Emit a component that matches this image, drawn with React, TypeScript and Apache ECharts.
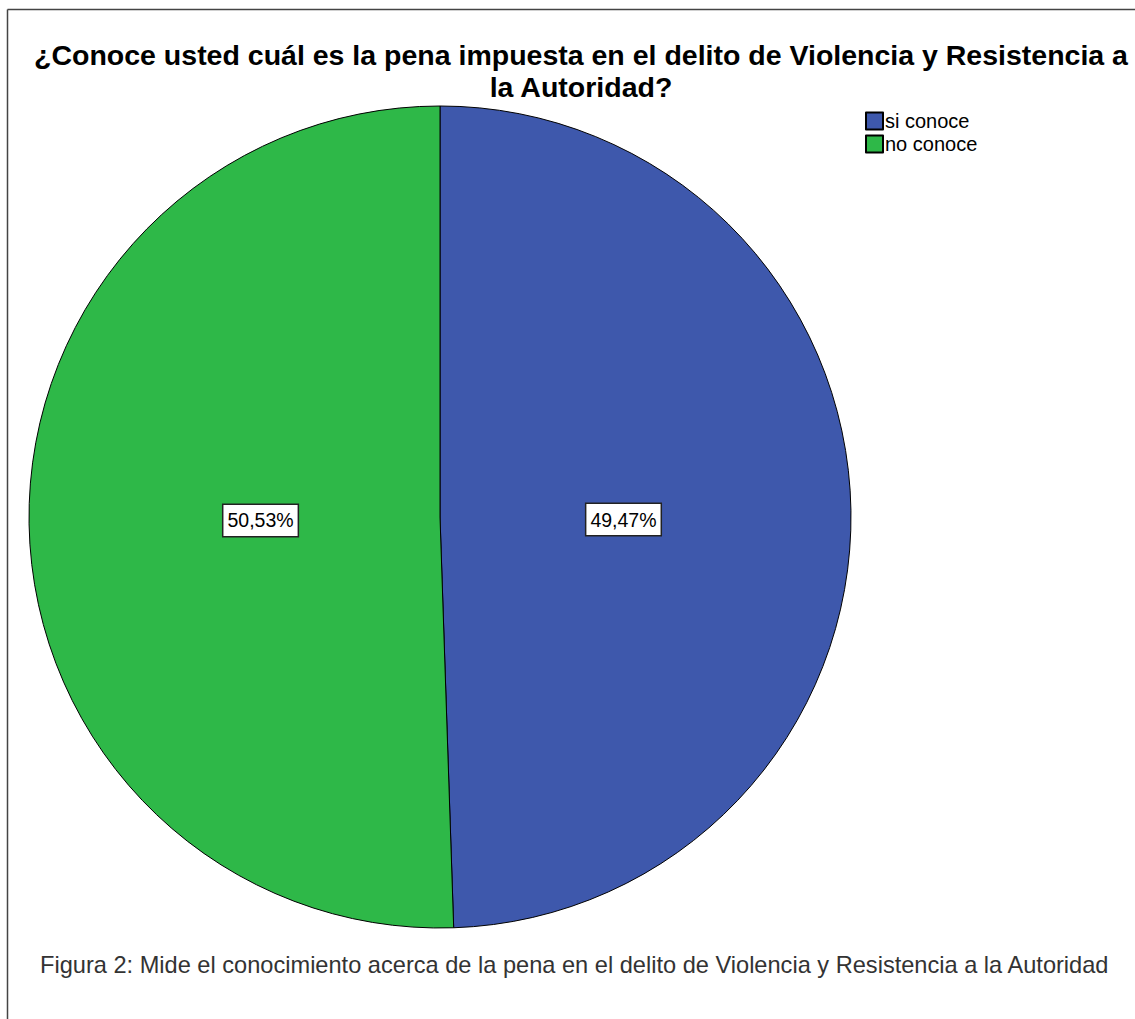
import React, { useEffect, useRef } from "react";
import * as echarts from "echarts";

const titleLines = [
  "¿Conoce usted cuál es la pena impuesta en el delito de Violencia y Resistencia a",
  "la Autoridad?",
];
const categories = ["si conoce", "no conoce"];
const percents = [49.47, 50.53];
const colors = ["#3E58AC", "#2EB848"];
const caption =
  "Figura 2: Mide el conocimiento acerca de la pena en el delito de Violencia y Resistencia a la Autoridad";

export default function App() {
  const ref = useRef<HTMLDivElement>(null);
  useEffect(() => {
    if (!ref.current) return;
    const chart = echarts.init(ref.current, null, { renderer: "svg" });
    const font = "'Liberation Sans', Arial, sans-serif";
    chart.setOption({
      animation: false,
      backgroundColor: "#ffffff",
      textStyle: { fontFamily: font },
      title: {
        text: titleLines.join("\n"),
        left: 576,
        textAlign: "center",
        top: 34,
        textStyle: {
          fontFamily: font,
          fontWeight: "bold",
          fontSize: 28.5,
          lineHeight: 32,
          color: "#000",
        },
      },
      legend: {
        orient: "vertical",
        left: 860,
        top: 106,
        itemWidth: 17,
        itemHeight: 17,
        itemGap: 3,
        icon: "rect",
        textStyle: { fontFamily: font, fontSize: 20, color: "#000", padding: [0, 0, 0, -3] },
        data: categories,
      },
      graphic: [
        {
          type: "line",
          shape: { x1: 7.5, y1: 9.5, x2: 1135, y2: 9.5 },
          style: { stroke: "#444", lineWidth: 1.5 },
        },
        {
          type: "line",
          shape: { x1: 7.5, y1: 9.5, x2: 7.5, y2: 1019 },
          style: { stroke: "#444", lineWidth: 1.5 },
        },
        {
          type: "text",
          left: 40,
          top: 953,
          style: {
            text: caption,
            fontFamily: font,
            fontSize: 23.6,
            fill: "#333",
          },
        },
      ],
      series: [
        {
          type: "pie",
          center: [440, 517],
          radius: [0, 411],
          startAngle: 90,
          clockwise: true,
          silent: true,
          itemStyle: { borderColor: "#000", borderWidth: 1 },
          label: {
            show: true,
            position: "inside",
            formatter: (p: any) => p.value.toFixed(2).replace(".", ",") + "%",
            fontFamily: font,
            fontSize: 19.5,
            color: "#000",
            backgroundColor: "#fff",
            borderColor: "#222",
            borderWidth: 1.5,
            padding: [6, 4, 5, 4],
          },
          labelLayout: (p: any) =>
            p.dataIndex === 0 ? { dx: -25, dy: 6 } : { dx: 29, dy: 0 },
          labelLine: { show: false },
          data: categories.map((c, i) => ({
            name: c,
            value: percents[i],
            itemStyle: { color: colors[i] },
          })),
        },
      ],
    });
    return () => chart.dispose();
  }, []);
  return (
    <div
      ref={ref}
      style={{ position: "absolute", left: 0, top: 0, width: 1135, height: 1019 }}
    />
  );
}
